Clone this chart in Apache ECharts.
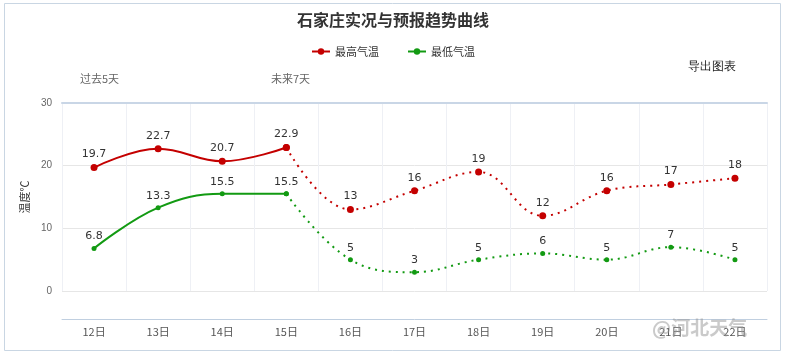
<!DOCTYPE html>
<html><head><meta charset="utf-8">
<script src="https://cdn.jsdelivr.net/npm/echarts@6/dist/echarts.min.js"></script>
<style>html,body{margin:0;padding:0;background:#fff}#c{width:786px;height:361px}</style>
</head><body><div id="c"></div>
<script>
var categories = ['12日','13日','14日','15日','16日','17日','18日','19日','20日','21日','22日'];
var highValues = [19.7, 22.7, 20.7, 22.9, 13, 16, 19, 12, 16, 17, 18];
var lowValues = [6.8, 13.3, 15.5, 15.5, 5, 3, 5, 6, 5, 7, 5];
var lastActualIndex = 3;
var yTicks = [0, 10, 20, 30];

function actualPart(arr){ return arr.map(function(v,i){ return i<=lastActualIndex ? v : null; }); }
function forecastPart(arr){ return arr.map(function(v,i){ return i>=lastActualIndex ? v : null; }); }

var RED = '#c40000', GREEN = '#129a12';
var labelStyle = {show:true, position:'top', distance:4, color:'#333', fontSize:11, fontFamily:'DejaVu Sans'};
function fcLabel(){ var o = Object.assign({}, labelStyle); o.formatter = function(p){ return p.dataIndex===lastActualIndex ? '' : String(p.value); }; return o; }

var chart = echarts.init(document.getElementById('c'));
chart.setOption({
  animation:false,
  title:{text:'石家庄实况与预报趋势曲线', left:'center', top:7, textStyle:{fontSize:16, fontWeight:'bold', color:'#333', fontFamily:'Noto Sans CJK SC'}},
  legend:{top:41, left:'center', itemWidth:18, itemHeight:8, itemGap:28, textStyle:{fontSize:11, color:'#333', fontFamily:'Noto Sans CJK SC'},
    data:['最高气温','最低气温']},
  graphic:[
    {type:'rect', shape:{x:4.5,y:3.5,width:776,height:347}, style:{fill:'none', stroke:'#c9d6e3', lineWidth:1}, silent:true},
    {type:'text', left:688, top:61, style:{text:'导出图表', fontSize:12, fill:'#222', font:'12px "Noto Sans CJK SC"'}},
    {type:'text', left:80, top:73, style:{text:'过去5天', fill:'#666', font:'11px "Noto Sans CJK SC"'}},
    {type:'text', left:271, top:73, style:{text:'未来7天', fill:'#666', font:'11px "Noto Sans CJK SC"'}},
    {type:'text', left:652, top:318, z:100, style:{text:'@河北天气', fill:'rgba(150,150,150,0.5)', font:'bold 19px "Noto Sans CJK SC"'}}
  ],
  grid:{left:62, right:19, top:103, bottom:70},
  xAxis:[
    {type:'category', data:categories, boundaryGap:true, position:'bottom', offset:28,
     axisLine:{onZero:false, lineStyle:{color:'#c0cfe0'}}, axisTick:{inside:false, length:8, lineStyle:{color:'#c0cfe0'}},
     axisLabel:{color:'#555', fontSize:11, margin:7, fontFamily:'Noto Sans CJK SC'},
     splitLine:{show:true, lineStyle:{color:'#eef0f5'}}},
    {type:'category', data:categories, boundaryGap:true, position:'top',
     axisLine:{onZero:false, lineStyle:{color:'#c9d6e6', width:2}}, axisTick:{length:9, lineStyle:{color:'#d6deea'}},
     axisLabel:{show:false}}
  ],
  yAxis:{type:'value', min:yTicks[0], max:yTicks[yTicks.length-1], interval:10,
    name:'温度℃', nameLocation:'middle', nameGap:26, nameRotate:90,
    nameTextStyle:{color:'#333', fontSize:11, fontFamily:'Noto Sans CJK SC'},
    axisLine:{show:false}, axisTick:{show:false},
    axisLabel:{color:'#666', fontSize:10, margin:10},
    splitLine:{lineStyle:{color:'#e6e6e6'}}},
  series:[
    {name:'最高气温', type:'line', smooth:0.4, data:actualPart(highValues), color:RED,
     symbol:'circle', symbolSize:7, lineStyle:{width:2, color:RED}, itemStyle:{color:RED}, label:labelStyle, z:3},
    {name:'最高气温', type:'line', smooth:0.4, data:forecastPart(highValues), color:RED,
     symbol:'circle', symbolSize:7, lineStyle:{width:2, type:[2,5], color:RED}, itemStyle:{color:RED}, label:fcLabel()},
    {name:'最低气温', type:'line', smooth:0.4, data:actualPart(lowValues), color:GREEN,
     symbol:'circle', symbolSize:5, lineStyle:{width:2, color:GREEN}, itemStyle:{color:GREEN}, label:labelStyle, z:3},
    {name:'最低气温', type:'line', smooth:0.4, data:forecastPart(lowValues), color:GREEN,
     symbol:'circle', symbolSize:5, lineStyle:{width:2, type:[2,5], color:GREEN}, itemStyle:{color:GREEN}, label:fcLabel()}
  ]
});
</script></body></html>
